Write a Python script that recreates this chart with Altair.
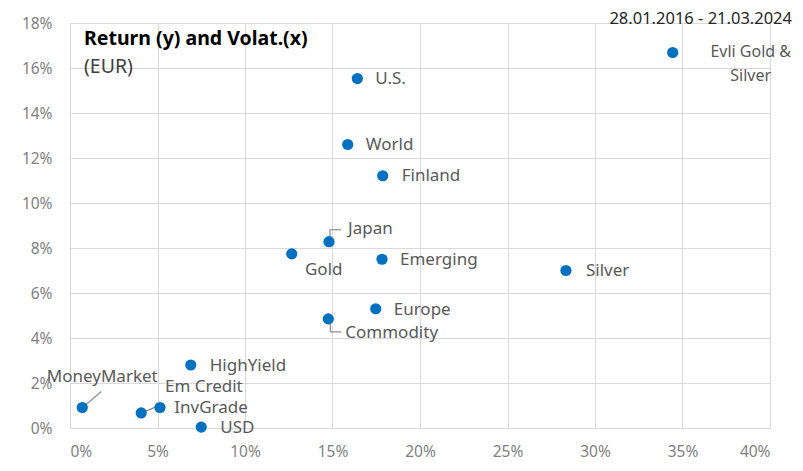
import altair as alt
import pandas as pd

names = ["Evli Gold &\nSilver", "U.S.", "World", "Finland", "Japan", "Gold", "Emerging",
         "Silver", "Europe", "Commodity", "HighYield", "MoneyMarket", "Em Credit",
         "InvGrade", "USD"]
volatility = [34.44, 16.42, 15.87, 17.87, 14.80, 12.67, 17.83,
              28.34, 17.47, 14.76, 6.90, 0.70, 5.14,
              4.07, 7.50]
returns = [16.69, 15.53, 12.60, 11.21, 8.28, 7.74, 7.50,
           7.00, 5.30, 4.85, 2.80, 0.91, 0.91,
           0.67, 0.04]

x_ticks = [0, 0.05, 0.10, 0.15, 0.20, 0.25, 0.30, 0.35, 0.40]
y_ticks = [0, 0.02, 0.04, 0.06, 0.08, 0.10, 0.12, 0.14, 0.16, 0.18]

df = pd.DataFrame({
    "name": names,
    "vol": [v / 100 for v in volatility],
    "ret": [r / 100 for r in returns],
})

# label placement (pixel offsets from the point, align, font size)
label_style = {
    "Evli Gold &\nSilver": (78, 0, "center", 16),
    "U.S.": (18, 0, "left", 17),
    "World": (18, 0, "left", 17),
    "Finland": (19, 0, "left", 17),
    "Japan": (19, -13, "left", 17),
    "Gold": (32, 16, "center", 17),
    "Emerging": (18, 1, "left", 17),
    "Silver": (20, 0, "left", 17),
    "Europe": (18, 1, "left", 17),
    "Commodity": (17, 14, "left", 17),
    "HighYield": (19, 1, "left", 17),
    "MoneyMarket": (20, -31, "center", 17),
    "Em Credit": (5, -21, "left", 17),
    "InvGrade": (33, -5, "left", 17),
    "USD": (19, 1, "left", 17),
}

# leader segments: (name, x_off1, y_off1, x_off2, y_off2) in pixels
leaders = [
    ("Japan", 1, -4, 1, -12),
    ("Japan", 1, -12, 12, -12),
    ("Commodity", 2, 4, 2, 13),
    ("Commodity", 2, 13, 13, 13),
    ("MoneyMarket", 4, -3, 19, -16),
    ("InvGrade", 3, -1, 17, -7),
]

W, H = 700, 405
xs = alt.Scale(domain=[0, 0.40], nice=False)
ys = alt.Scale(domain=[0, 0.18], nice=False)

base = alt.Chart(df)

axis_common = dict(format=".0%", title=None, grid=True, gridColor="#d9d9d9",
                   domainColor="#d9d9d9", ticks=False, labelColor="#7f7f7f",
                   labelFontSize=15.5, labelFont="Noto Sans")

points = base.mark_circle(size=125, color="#0070c0", opacity=1).encode(
    x=alt.X("vol:Q", scale=xs, axis=alt.Axis(values=x_ticks, labelPadding=16, **axis_common)),
    y=alt.Y("ret:Q", scale=ys, axis=alt.Axis(values=y_ticks, labelPadding=18, **axis_common)),
)

layers = []
for (nm, x1, y1, x2, y2) in leaders:
    layers.append(
        base.transform_filter(alt.datum.name == nm).mark_rule(
            color="#8c8c8c", strokeWidth=1.2,
            xOffset=x1, yOffset=y1, x2Offset=x2, y2Offset=y2
        ).encode(x="vol:Q", y="ret:Q", x2="vol:Q", y2="ret:Q")
    )

layers.append(points)

for nm, (dx, dy, al, fs) in label_style.items():
    layers.append(
        base.transform_filter(alt.datum.name == nm).mark_text(
            dx=dx, dy=dy, align=al, baseline="middle", fontSize=fs,
            font="Noto Sans", color="#595959", lineBreak="\n", lineHeight=24
        ).encode(x="vol:Q", y="ret:Q", text="name:N")
    )

title_df = pd.DataFrame({"t": ["Return (y) and Volat.(x)"]})
sub_df = pd.DataFrame({"t": ["(EUR)"]})
date_df = pd.DataFrame({"t": ["28.01.2016 - 21.03.2024"]})

title = alt.Chart(title_df).mark_text(
    align="left", baseline="alphabetic", fontSize=19.5, fontWeight="bold",
    font="Noto Sans", color="#000000"
).encode(x=alt.value(14), y=alt.value(22), text="t:N")
sub = alt.Chart(sub_df).mark_text(
    align="left", baseline="alphabetic", fontSize=19.5,
    font="Noto Sans", color="#404040"
).encode(x=alt.value(14), y=alt.value(50), text="t:N")
date = alt.Chart(date_df).mark_text(
    align="right", baseline="middle", fontSize=16.5,
    font="Noto Sans", color="#262626"
).encode(x=alt.value(722), y=alt.value(-4), text="t:N")

chart = alt.layer(*layers, title, sub, date).properties(
    width=W, height=H,
    autosize=alt.AutoSizeParams(type="none"),
    padding={"left": 62, "top": 15, "right": 24, "bottom": 34},
    background="white",
).configure_view(stroke=None)

chart.save("out.html", embed_options={"renderer": "svg", "actions": False})
